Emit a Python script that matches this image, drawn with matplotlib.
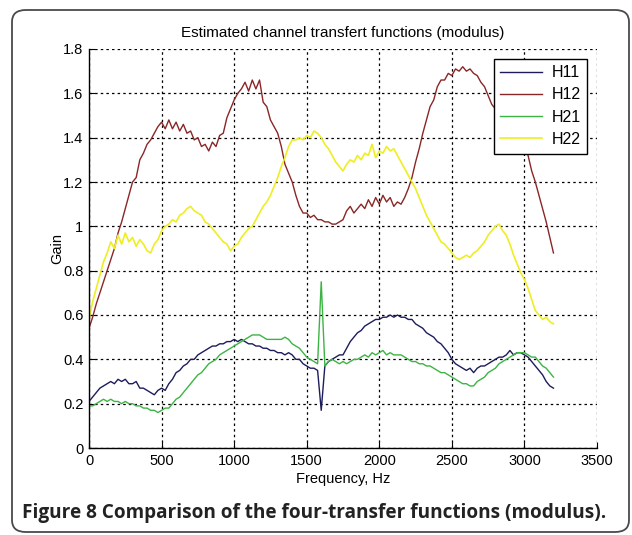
import numpy as np
import matplotlib
matplotlib.use("Agg")
import matplotlib.pyplot as plt
from matplotlib.patches import FancyBboxPatch

# Frequency grid of the estimates (Hz)
freq = np.arange(0, 3201, 25)

# |H11|
h11 = [
    0.21, 0.23, 0.25, 0.27, 0.28, 0.29, 0.30, 0.29,
    0.31, 0.30, 0.31, 0.29, 0.29, 0.30, 0.27, 0.27,
    0.26, 0.25, 0.24, 0.26, 0.27, 0.26, 0.29, 0.31,
    0.34, 0.35, 0.37, 0.38, 0.40, 0.40, 0.42, 0.43,
    0.44, 0.45, 0.46, 0.46, 0.47, 0.47, 0.48, 0.48,
    0.49, 0.48, 0.49, 0.48, 0.47, 0.47, 0.46, 0.46,
    0.45, 0.45, 0.44, 0.44, 0.43, 0.43, 0.42, 0.43,
    0.42, 0.40, 0.40, 0.38, 0.37, 0.36, 0.36, 0.35,
    0.17, 0.37, 0.39, 0.40, 0.41, 0.42, 0.42, 0.45,
    0.48, 0.50, 0.52, 0.53, 0.55, 0.56, 0.57, 0.58,
    0.58, 0.59, 0.59, 0.60, 0.59, 0.60, 0.59, 0.59,
    0.58, 0.58, 0.56, 0.55, 0.54, 0.52, 0.51, 0.50,
    0.48, 0.47, 0.45, 0.43, 0.40, 0.38, 0.37, 0.36,
    0.35, 0.36, 0.34, 0.36, 0.37, 0.37, 0.38, 0.39,
    0.40, 0.41, 0.41, 0.42, 0.44, 0.42, 0.43, 0.43,
    0.42, 0.41, 0.39, 0.37, 0.35, 0.33, 0.30, 0.28,
    0.27,
]

# |H12|
h12 = [
    0.54, 0.59, 0.65, 0.70, 0.75, 0.80, 0.85, 0.90,
    0.97, 1.02, 1.08, 1.14, 1.20, 1.22, 1.30, 1.33,
    1.37, 1.39, 1.42, 1.45, 1.47, 1.44, 1.48, 1.44,
    1.47, 1.43, 1.46, 1.42, 1.43, 1.39, 1.40, 1.36,
    1.37, 1.34, 1.38, 1.36, 1.41, 1.42, 1.49, 1.53,
    1.57, 1.60, 1.62, 1.65, 1.61, 1.66, 1.62, 1.66,
    1.56, 1.54, 1.48, 1.45, 1.42, 1.36, 1.28, 1.24,
    1.20, 1.14, 1.09, 1.06, 1.06, 1.04, 1.05, 1.03,
    1.03, 1.02, 1.02, 1.01, 1.01, 1.02, 1.03, 1.07,
    1.09, 1.06, 1.08, 1.10, 1.08, 1.12, 1.09, 1.13,
    1.10, 1.14, 1.11, 1.13, 1.09, 1.11, 1.10, 1.13,
    1.17, 1.22, 1.29, 1.35, 1.42, 1.48, 1.54, 1.57,
    1.63, 1.66, 1.66, 1.69, 1.68, 1.71, 1.70, 1.72,
    1.70, 1.71, 1.69, 1.68, 1.65, 1.63, 1.59, 1.55,
    1.53, 1.50, 1.48, 1.47, 1.45, 1.44, 1.42, 1.40,
    1.37, 1.32, 1.25, 1.20, 1.14, 1.08, 1.02, 0.95,
    0.88,
]

# |H21|
h21 = [
    0.19, 0.19, 0.20, 0.21, 0.22, 0.21, 0.22, 0.21,
    0.21, 0.20, 0.21, 0.20, 0.20, 0.19, 0.19, 0.18,
    0.18, 0.17, 0.17, 0.16, 0.17, 0.18, 0.18, 0.20,
    0.22, 0.23, 0.25, 0.27, 0.29, 0.31, 0.33, 0.34,
    0.36, 0.38, 0.39, 0.40, 0.42, 0.43, 0.44, 0.45,
    0.46, 0.47, 0.48, 0.49, 0.50, 0.51, 0.51, 0.51,
    0.50, 0.49, 0.49, 0.49, 0.49, 0.49, 0.50, 0.49,
    0.47, 0.46, 0.45, 0.43, 0.41, 0.40, 0.39, 0.38,
    0.75, 0.37, 0.39, 0.40, 0.39, 0.38, 0.39, 0.38,
    0.39, 0.40, 0.40, 0.41, 0.42, 0.41, 0.43, 0.42,
    0.43, 0.44, 0.42, 0.43, 0.42, 0.42, 0.42, 0.41,
    0.40, 0.39, 0.39, 0.38, 0.38, 0.37, 0.37, 0.36,
    0.35, 0.34, 0.34, 0.33, 0.32, 0.31, 0.30, 0.29,
    0.29, 0.28, 0.28, 0.30, 0.31, 0.32, 0.34, 0.35,
    0.36, 0.38, 0.39, 0.40, 0.41, 0.42, 0.43, 0.43,
    0.43, 0.42, 0.41, 0.41, 0.39, 0.37, 0.36, 0.34,
    0.32,
]

# |H22|
h22 = [
    0.58, 0.66, 0.72, 0.78, 0.84, 0.88, 0.93, 0.90,
    0.96, 0.92, 0.97, 0.93, 0.95, 0.91, 0.94, 0.92,
    0.89, 0.88, 0.92, 0.94, 0.98, 1.00, 1.01, 1.03,
    1.02, 1.05, 1.06, 1.08, 1.09, 1.07, 1.06, 1.05,
    1.02, 1.01, 0.99, 0.97, 0.95, 0.93, 0.92, 0.89,
    0.91, 0.92, 0.95, 0.97, 0.99, 1.00, 1.03, 1.06,
    1.09, 1.11, 1.14, 1.18, 1.22, 1.27, 1.31, 1.36,
    1.39, 1.39, 1.40, 1.39, 1.41, 1.40, 1.43, 1.42,
    1.40, 1.37, 1.35, 1.32, 1.29, 1.27, 1.25, 1.28,
    1.30, 1.29, 1.32, 1.30, 1.33, 1.32, 1.37, 1.31,
    1.34, 1.33, 1.36, 1.34, 1.35, 1.32, 1.29, 1.26,
    1.23, 1.20, 1.17, 1.13, 1.09, 1.05, 1.02, 0.99,
    0.96, 0.93, 0.92, 0.90, 0.88, 0.86, 0.85, 0.86,
    0.87, 0.86, 0.88, 0.89, 0.91, 0.93, 0.96, 0.98,
    1.00, 1.01, 0.98, 0.96, 0.92, 0.87, 0.83, 0.79,
    0.76, 0.72, 0.67, 0.62, 0.60, 0.58, 0.59, 0.57,
    0.56,
]

series = [
    ("H11", h11, "#1c1c5c", 1.0),
    ("H12", h12, "#8a2626", 1.0),
    ("H21", h21, "#3cb443", 1.0),
    ("H22", h22, "#eeee22", 1.2),
]

x_ticks = [0, 500, 1000, 1500, 2000, 2500, 3000, 3500]
y_ticks = [0, 0.2, 0.4, 0.6, 0.8, 1.0, 1.2, 1.4, 1.6, 1.8]
y_tick_labels = ["0", "0.2", "0.4", "0.6", "0.8", "1", "1.2", "1.4", "1.6", "1.8"]

plt.rcParams["font.family"] = ["Liberation Sans", "DejaVu Sans"]

W, H = 632, 535
fig = plt.figure(figsize=(W / 100, H / 100), dpi=100)
fig.patch.set_facecolor("white")

# rounded frame around the whole figure
frame = FancyBboxPatch((12 / W, 1 - 532 / H), (629 - 12) / W, (532 - 10) / H,
                       boxstyle="round,pad=0,rounding_size=0.022",
                       transform=fig.transFigure, facecolor="none",
                       edgecolor="#4a4a4a", linewidth=1.3)
fig.patches.append(frame)

ax = fig.add_axes([89 / W, 1 - 448 / H, (597 - 89) / W, (448 - 49) / H])
for name, vals, col, lw in series:
    ax.plot(freq, vals, color=col, linewidth=lw, label=name)

ax.set_xlim(0, 3500)
ax.set_ylim(0, 1.8)
ax.set_xticks(x_ticks)
ax.set_yticks(y_ticks)
ax.set_yticklabels(y_tick_labels)
ax.tick_params(direction="in", length=4, labelsize=10.5, colors="black", pad=4)
ax.grid(True, color="black", linestyle=(0, (2, 2.5)), linewidth=0.9)
ax.spines["top"].set_visible(False)
ax.spines["right"].set_visible(False)
for s in ("left", "bottom"):
    ax.spines[s].set_linewidth(1.0)

ax.set_title("Estimated channel transfert functions (modulus)", fontsize=11, pad=9)
ax.set_xlabel("Frequency, Hz", fontsize=10.5, labelpad=3)
ax.set_ylabel("Gain", fontsize=10.5, labelpad=-1)

leg = ax.legend(loc="upper right", fontsize=11.5, frameon=True, fancybox=False,
                edgecolor="black", framealpha=1, handlelength=2.6,
                borderaxespad=0.6, labelspacing=0.45, handletextpad=0.6,
                borderpad=0.42)
leg.get_frame().set_linewidth(1.0)

fig.text(22 / W, 1 - 513 / H,
         "Figure 8 Comparison of the four-transfer functions (modulus).",
         fontsize=13.7, fontweight="bold", family=["Open Sans", "DejaVu Sans"],
         va="center", ha="left", color="#222222")

fig.savefig("out.png", dpi=100)
